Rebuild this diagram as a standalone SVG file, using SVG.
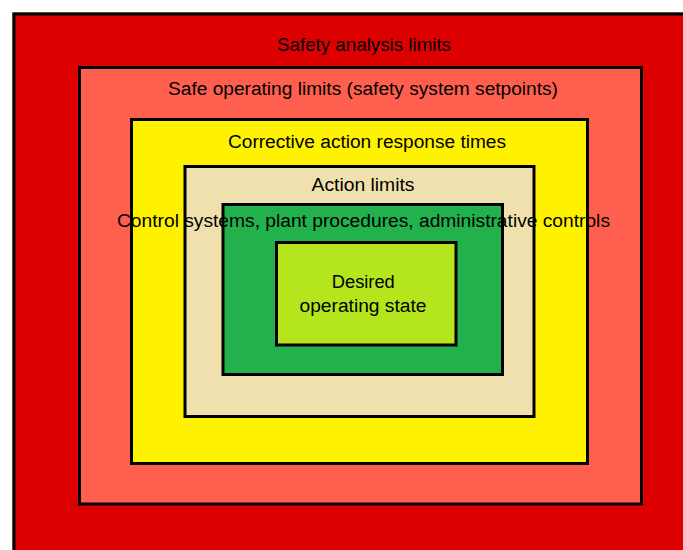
<svg xmlns="http://www.w3.org/2000/svg" width="683" height="550" viewBox="0 0 683 550">
  <style>
    .box { stroke: #000; stroke-width: 3; }
    .lbl { font-family: "Liberation Sans", Arial, sans-serif; font-size: 18px; fill: #000; text-anchor: middle; }
  </style>
  <rect width="683" height="550" fill="#ffffff"/>

  <!-- Nested limit zones, outermost first -->
  <g id="safety-analysis-limits">
    <rect x="12.5" y="12.5" width="700" height="560" fill="none" stroke="#9a9a9a" stroke-width="1"/>
    <rect class="box" x="14" y="14" width="700" height="560" fill="#dd0000"/>
    <text class="lbl" x="364" y="51" textLength="174" lengthAdjust="spacingAndGlyphs">Safety analysis limits</text>
  </g>

  <g id="safe-operating-limits">
    <rect class="box" x="79.5" y="67.5" width="562" height="436.5" fill="#ff5f4f"/>
    <text class="lbl" x="363" y="95" textLength="390" lengthAdjust="spacingAndGlyphs">Safe operating limits (safety system setpoints)</text>
  </g>

  <g id="corrective-action">
    <rect class="box" x="131.5" y="119.5" width="456" height="344" fill="#fff200"/>
    <text class="lbl" x="367" y="148" textLength="278" lengthAdjust="spacingAndGlyphs">Corrective action response times</text>
  </g>

  <g id="action-limits">
    <rect class="box" x="185" y="166.5" width="349" height="250" fill="#efe0ad"/>
    <text class="lbl" x="363" y="191" textLength="103" lengthAdjust="spacingAndGlyphs">Action limits</text>
  </g>

  <g id="control-systems">
    <rect class="box" x="223" y="204.5" width="279.5" height="170" fill="#22b14c"/>
  </g>

  <g id="desired-operating-state">
    <rect class="box" x="276.5" y="242.5" width="179.5" height="102.5" fill="#b5e61d"/>
    <text class="lbl" x="363.3" y="287.5" textLength="63" lengthAdjust="spacingAndGlyphs">Desired</text>
    <text class="lbl" x="363" y="312" textLength="127" lengthAdjust="spacingAndGlyphs">operating state</text>
  </g>

  <!-- Control-systems caption overlaps the surrounding zones, so it is drawn last -->
  <text class="lbl" x="363.5" y="227" textLength="493" lengthAdjust="spacingAndGlyphs">Control systems, plant procedures, administrative controls</text>
</svg>
